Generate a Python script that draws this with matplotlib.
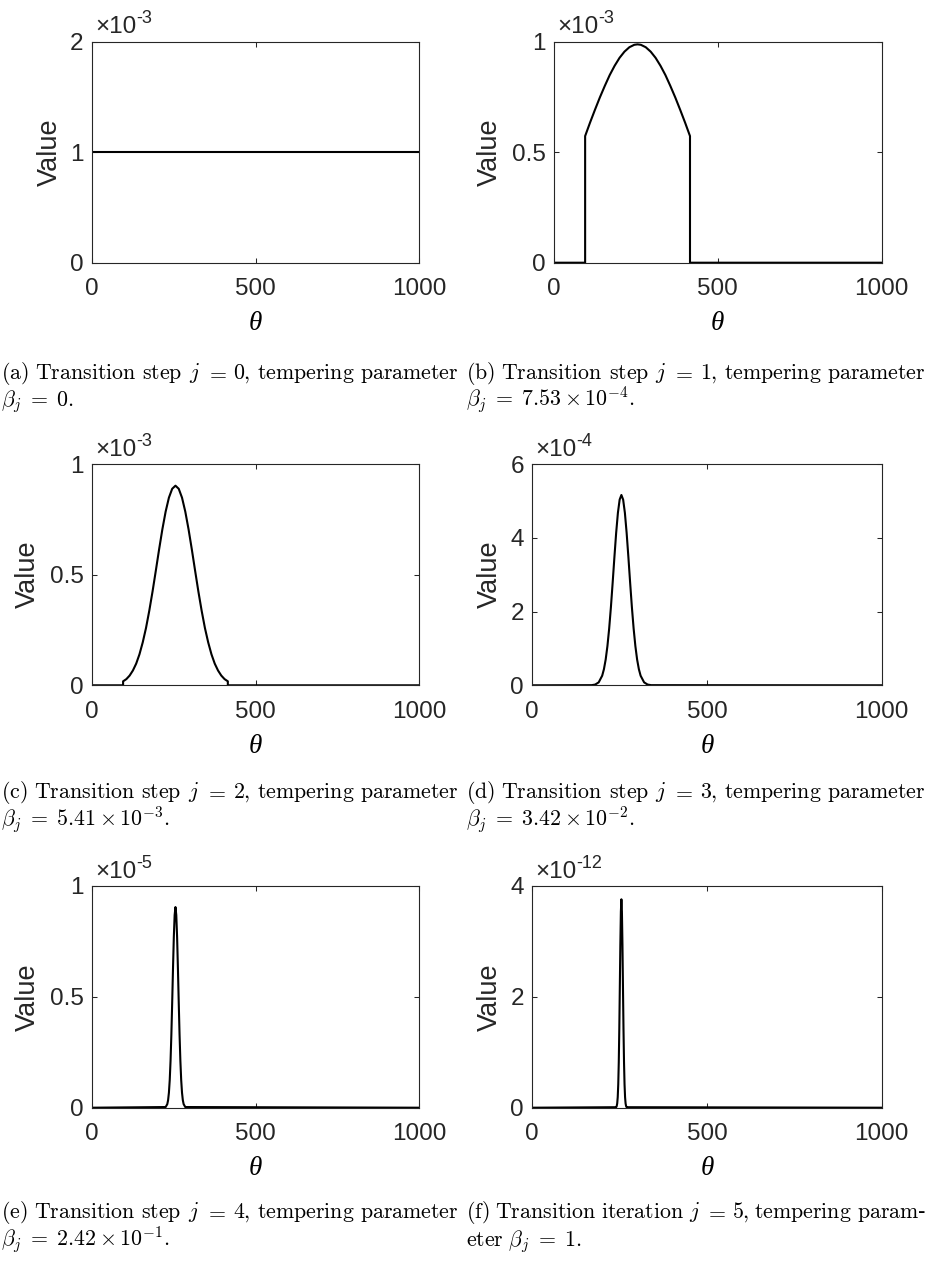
import numpy as np
import matplotlib.pyplot as plt
from matplotlib.ticker import FuncFormatter

W, H = 928, 1265

# theta grid and values
theta_a = [0, 1000]
value_a = np.array([1.0, 1.0]) * 1e-3

theta_b = [0, 95, 95, 110, 125, 140, 155, 170, 185, 200, 215, 230, 245, 255,
           265, 280, 295, 310, 325, 340, 355, 370, 385, 400, 415, 415, 1000]
value_b = np.array([0, 0, 0.573, 0.634, 0.692, 0.748, 0.800, 0.849, 0.891, 0.927,
                    0.955, 0.975, 0.986, 0.988, 0.986, 0.975, 0.955, 0.927, 0.891,
                    0.849, 0.800, 0.748, 0.692, 0.634, 0.573, 0, 0]) * 1e-3

theta_c = [0, 95, 95, 105, 115, 125, 135, 145, 155, 165, 175, 185, 195, 205, 215,
           225, 235, 245, 255, 265, 275, 285, 295, 305, 315, 325, 335, 345, 355,
           365, 375, 385, 395, 405, 415, 415, 1000]
value_c = np.array([0, 0, 0.018, 0.028, 0.044, 0.067, 0.098, 0.140, 0.194, 0.259,
                    0.337, 0.424, 0.518, 0.614, 0.705, 0.785, 0.848, 0.888, 0.902,
                    0.888, 0.848, 0.785, 0.705, 0.614, 0.518, 0.424, 0.337, 0.259,
                    0.194, 0.140, 0.098, 0.067, 0.044, 0.028, 0.018, 0, 0]) * 1e-3

theta_d = [0, 170, 180, 190, 200, 205, 210, 215, 220, 225, 230, 235, 240, 245, 250,
           255, 260, 265, 270, 275, 280, 285, 290, 295, 300, 305, 310, 320, 330,
           340, 1000]
value_d = np.array([0, 0.004, 0.020, 0.080, 0.260, 0.437, 0.698, 1.063, 1.539, 2.121,
                    2.783, 3.476, 4.132, 4.675, 5.034, 5.160, 5.034, 4.675, 4.132,
                    3.476, 2.783, 2.121, 1.539, 1.063, 0.698, 0.437, 0.260, 0.080,
                    0.020, 0.004, 0]) * 1e-4

theta_e = [0, 225, 230, 232.5, 235, 237.5, 240, 242.5, 245, 247.5, 250, 252.5, 255,
           257.5, 260, 262.5, 265, 267.5, 270, 272.5, 275, 277.5, 280, 285, 1000]
value_e = np.array([0, 0.003, 0.016, 0.034, 0.068, 0.125, 0.212, 0.330, 0.475, 0.629,
                    0.770, 0.869, 0.905, 0.869, 0.770, 0.629, 0.475, 0.330, 0.212,
                    0.125, 0.068, 0.034, 0.016, 0.003, 0]) * 1e-5

theta_f = [0, 240, 241.5, 243, 244.5, 246, 247.5, 249, 250.5, 252, 253.5, 255, 256.5,
           258, 259.5, 261, 262.5, 264, 265.5, 267, 268.5, 270, 1000]
value_f = np.array([0, 0.009, 0.027, 0.077, 0.191, 0.421, 0.822, 1.420, 2.174, 2.948,
                    3.538, 3.760, 3.538, 2.948, 2.174, 1.420, 0.822, 0.421, 0.191,
                    0.077, 0.027, 0.009, 0]) * 1e-12

exponents = [-3, -3, -3, -4, -5, -12]
yticks = [[0, 1, 2], [0, 0.5, 1], [0, 0.5, 1], [0, 2, 4, 6], [0, 0.5, 1], [0, 2, 4]]

steps = ["0", "1", "2", "3", "4", "5"]
betas = [r"0", r"7.53\times10^{-4}", r"5.41\times10^{-3}", r"3.42\times10^{-2}",
         r"2.42\times10^{-1}", r"1"]

series = [(theta_a, value_a), (theta_b, value_b), (theta_c, value_c),
          (theta_d, value_d), (theta_e, value_e), (theta_f, value_f)]

# axes boxes in pixels: left, top, right, bottom
boxes = [(92, 41.7, 419.3, 262.7), (554, 41.7, 881.7, 262.7),
         (92, 464, 419.3, 685.3), (532.3, 464, 881.7, 685.3),
         (92, 886, 419.3, 1107.7), (532.3, 886, 881.7, 1107.7)]
cap_y = [(379, 406), (379, 406), (798, 826), (798, 826), (1218, 1246), (1218, 1246)]

plt.rcParams['font.family'] = 'Liberation Sans'
fig = plt.figure(figsize=(W / 100, H / 100), dpi=100)
renderer = fig.canvas.get_renderer()
dark = '#262626'

# size the caption font so that "Transition" is about 101 px wide, as in the reference
probe = fig.text(0, 0, r"$\mathrm{Transition}$", fontsize=20, math_fontfamily='cm')
CAP = 20 * 101 / probe.get_window_extent(renderer).width
probe.remove()


def caption(words, last, x0, x1, y1, y2):
    texts = [fig.text(x0 / W, 1 - y1 / H, w, fontsize=CAP, family='DejaVu Serif',
                      math_fontfamily='cm', va='baseline') for w in words]
    widths = [t.get_window_extent(renderer).width for t in texts]
    gap = (x1 - x0 - sum(widths)) / (len(words) - 1)
    x = x0
    for t, w in zip(texts, widths):
        t.set_x(x / W)
        x += w + gap
    fig.text(x0 / W, 1 - y2 / H, last, fontsize=CAP, family='DejaVu Serif',
             math_fontfamily='cm', va='baseline')


for i, ((th, val), (l, t, r, b)) in enumerate(zip(series, boxes)):
    ax = fig.add_axes([l / W, 1 - b / H, (r - l) / W, (b - t) / H])
    scale = 10.0 ** exponents[i]
    ax.plot(th, val, color='black', lw=1.5)
    ax.set_xlim(0, 1000)
    ax.set_ylim(0, yticks[i][-1] * scale)
    ax.set_xticks([0, 500, 1000])
    ax.set_yticks(np.array(yticks[i]) * scale)
    ax.yaxis.set_major_formatter(FuncFormatter(lambda v, p, s=scale: f'{v / s:g}'))
    ax.tick_params(direction='in', length=3.5, width=0.75, top=True, right=True,
                   labelsize=17.5, colors=dark)
    ax.tick_params(axis='x', pad=11)
    ax.tick_params(axis='y', pad=6)
    for sp in ax.spines.values():
        sp.set_color(dark)
        sp.set_linewidth(0.8)

    ax.set_xlabel('θ', fontfamily='Liberation Serif', style='italic', fontsize=19.5,
                  va='center', color='black')
    ax.xaxis.set_label_coords(0.5, -61 / (b - t))
    wide = any(v != int(v) for v in yticks[i])
    ax.set_ylabel('Value', fontsize=19.5, ha='center', va='center', color=dark)
    ax.yaxis.set_label_coords(-(64 if wide else 42) / (r - l), 0.5)

    mult = ax.annotate('×10', xy=(0, 1), xycoords='axes fraction', xytext=(3, 8.5),
                       textcoords='offset pixels', va='baseline', ha='left',
                       fontsize=17.5, color=dark)
    ax.annotate(f'-{abs(exponents[i])}', xy=(1, 0), xycoords=mult, xytext=(0, 11),
                textcoords='offset pixels', va='bottom', ha='left', fontsize=13,
                color=dark)

    tag = "abcdef"[i]
    kind = r"\mathrm{iteration}" if i == 5 else r"\mathrm{step}"
    words = [rf"$\mathrm{{({tag})}}$", r"$\mathrm{Transition}$", f"${kind}$", "$j$",
             "$=$", f"${steps[i]},$", r"$\mathrm{tempering}$"]
    if i == 5:
        words.append(r"$\mathrm{param}$‐")
        last = rf"$\mathrm{{eter}}\ \beta_j\;=\;{betas[i]}.$"
    else:
        words.append(r"$\mathrm{parameter}$")
        last = rf"$\beta_j\;=\;{betas[i]}.$"
    col_x0 = 1 if i % 2 == 0 else 466
    col_x1 = 459 if i % 2 == 0 else 926
    caption(words, last, col_x0, col_x1, *cap_y[i])

fig.savefig('out.png', dpi=100)
